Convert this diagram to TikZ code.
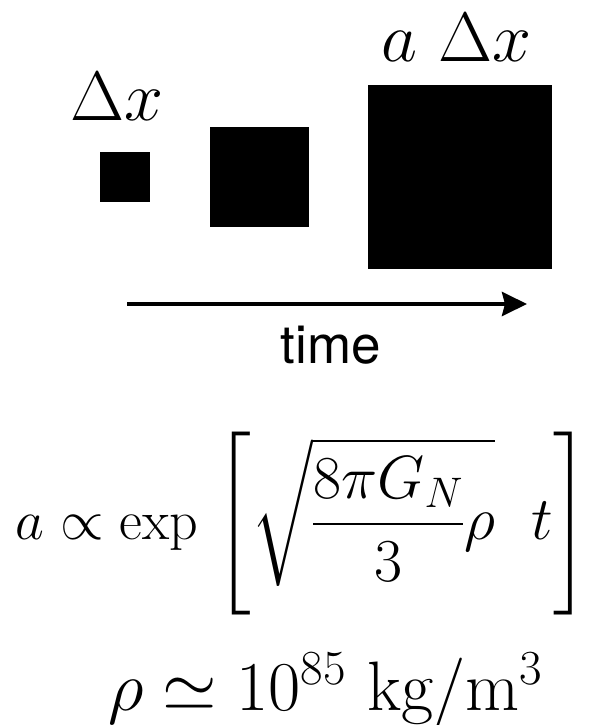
\RequirePackage{fix-cm}
\documentclass[tikz,border=0pt]{standalone}
\usepackage{amsmath}
\usepackage{exscale}
\DeclareFontShape{OMX}{cmex}{m}{n}{<->cmex10}{}
\usepackage{fontspec}
\newfontfamily\timefont{TeX Gyre Heros}
\usetikzlibrary{arrows.meta}
\tikzset{
  sq/.style={fill=black, draw=none, inner sep=0pt, outer sep=0pt},
  biglabel/.style={inner sep=0pt, outer sep=0pt, anchor=base west, font=\fontsize{70}{84}\selectfont},
  timearrow/.style={line width=4pt, -{Stealth[length=25pt,width=24pt,inset=3pt]}},
  timelabel/.style={inner sep=0pt, anchor=base, font=\timefont\fontsize{53}{63}\selectfont},
  formula/.style={inner sep=0pt, outer sep=0pt, anchor=base west, font=\fontsize{61}{73}\selectfont}
}
\begin{document}
\begin{tikzpicture}[x=1pt,y=-1pt]
\useasboundingbox (0,0) rectangle (599,725);
\node[sq, minimum width=50pt, minimum height=50pt] (s1) at (125,177) {};
\node[sq, minimum width=99pt, minimum height=100pt] (s2) at (259.5,177) {};
\node[sq, minimum width=184pt, minimum height=184pt] (s3) at (460,177) {};
\node[biglabel] (l1) at (70,120) {$\Delta x$};
\node[biglabel] (l3) at (381,62) {$a\ \Delta x$};
\coordinate (tA) at (127,304);
\coordinate (tB) at (527,304);
\draw[timearrow] (tA) -- (tB);
\node[timelabel] (tl) at (331,363) {time};
\node[formula] (f1) at (16,539.3) {$\displaystyle \hbox{\fontsize{56}{67}\selectfont$a \propto \exp$}\mkern2.2mu\left[\sqrt{\dfrac{8\pi G_N}{3}\rho}\ \ t\right]$};
\node[biglabel] (f2) at (108,710) {$\rho \simeq 10^{85}\ \mathrm{kg}/\mathrm{m}^3$};
\end{tikzpicture}
\end{document}
